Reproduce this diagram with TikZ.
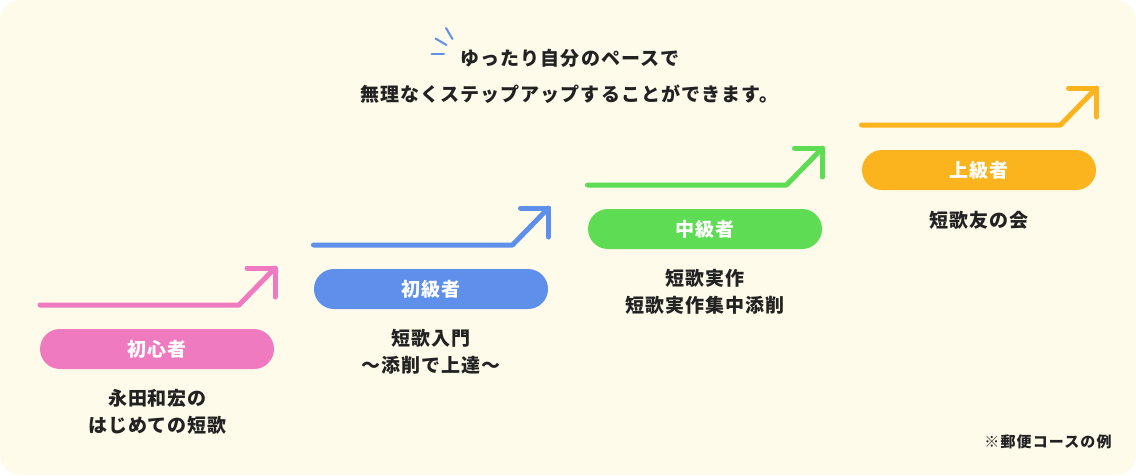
\documentclass[tikz,border=0pt]{standalone}
\usepackage{fontspec}
\setmainfont{Noto Sans CJK JP}[LetterSpace=4.7]
\newfontfamily\headfont{Noto Sans CJK JP}[LetterSpace=5.6]
\newfontfamily\notefont{Noto Sans CJK JP}[LetterSpace=7.5]
\definecolor{bgc}{HTML}{FFFBEB}
\definecolor{inkc}{HTML}{222222}
\definecolor{pinkc}{HTML}{F07ABF}
\definecolor{bluec}{HTML}{5E8FEA}
\definecolor{greenc}{HTML}{5DDC54}
\definecolor{yellowc}{HTML}{FBB41E}
\newcommand{\pilltext}[1]{\raisebox{-1pt}{#1}}
\tikzset{
  x=1pt,y=-1pt,
  pill/.style={rounded corners=20pt,minimum width=234pt,minimum height=40pt,inner sep=0pt,text=white,font=\fontsize{19pt}{22pt}\selectfont\bfseries},
  body/.style={align=center,text=inkc,inner sep=0pt,font=\fontsize{19pt}{27pt}\selectfont\bfseries},
  headline/.style={text=inkc,inner sep=0pt,font=\headfont\fontsize{19pt}{27pt}\selectfont\bfseries},
  steparrow/.style={line width=5pt,line cap=round,line join=round},
  spark/.style={line width=2pt,bluec,line cap=round},
}
\begin{document}
\begin{tikzpicture}
\useasboundingbox (0,0) rectangle (1136,475);
\fill[white] (0,0) rectangle (1136,475);
\fill[bgc,rounded corners=20pt] (0,0) rectangle (1136,475);

% sparks
\coordinate (s1a) at (431.5,53.5); \coordinate (s1b) at (444,53.5);
\coordinate (s2a) at (435.5,38.5); \coordinate (s2b) at (446.5,45);
\coordinate (s3a) at (446,28); \coordinate (s3b) at (452.5,39);
\draw[spark] (s1a) -- (s1b);
\draw[spark] (s2a) -- (s2b);
\draw[spark] (s3a) -- (s3b);

\node[headline] (head1) at (570,58) {ゆったり自分のペースで};
\node[headline] (head2) at (569.5,94) {無理なくステップアップすることができます。};

% arrows
\foreach \nm/\col/\dx/\dy in {a/pinkc/0/0,b/bluec/273.5/-60,c/greenc/547.5/-120,d/yellowc/821.5/-180}{
  \coordinate (\nm s) at (40+\dx,305+\dy);
  \coordinate (\nm k) at (239+\dx,305+\dy);
  \coordinate (\nm t) at (275+\dx,268+\dy);
  \coordinate (\nm l) at (247+\dx,268+\dy);
  \coordinate (\nm r) at (275+\dx,297+\dy);
  \draw[steparrow,\col] (\nm s) -- (\nm k) -- (\nm t);
  \draw[steparrow,\col] (\nm l) -- (\nm t) -- (\nm r);
}

% level pills
\node[pill,fill=pinkc] (p1) at (157,349) {\pilltext{初心者}};
\node[pill,fill=bluec] (p2) at (431,289) {\pilltext{初級者}};
\node[pill,fill=greenc] (p3) at (705,229) {\pilltext{中級者}};
\node[pill,fill=yellowc] (p4) at (979,170) {\pilltext{上級者}};

% course names
\node[body] (t1) at (157.5,411.5) {永田和宏の\\はじめての短歌};
\node[body] (t2) at (431,351.5) {短歌入門\\〜添削で上達〜};
\node[body] (t3) at (705,291.5) {短歌実作\\短歌実作集中添削};
\node[body] (t4) at (979,220) {短歌友の会};

\node[text=inkc,inner sep=0pt,font=\notefont\fontsize{15pt}{18pt}\selectfont\bfseries] (note) at (1048,442) {※郵便コースの例};
\end{tikzpicture}
\end{document}
